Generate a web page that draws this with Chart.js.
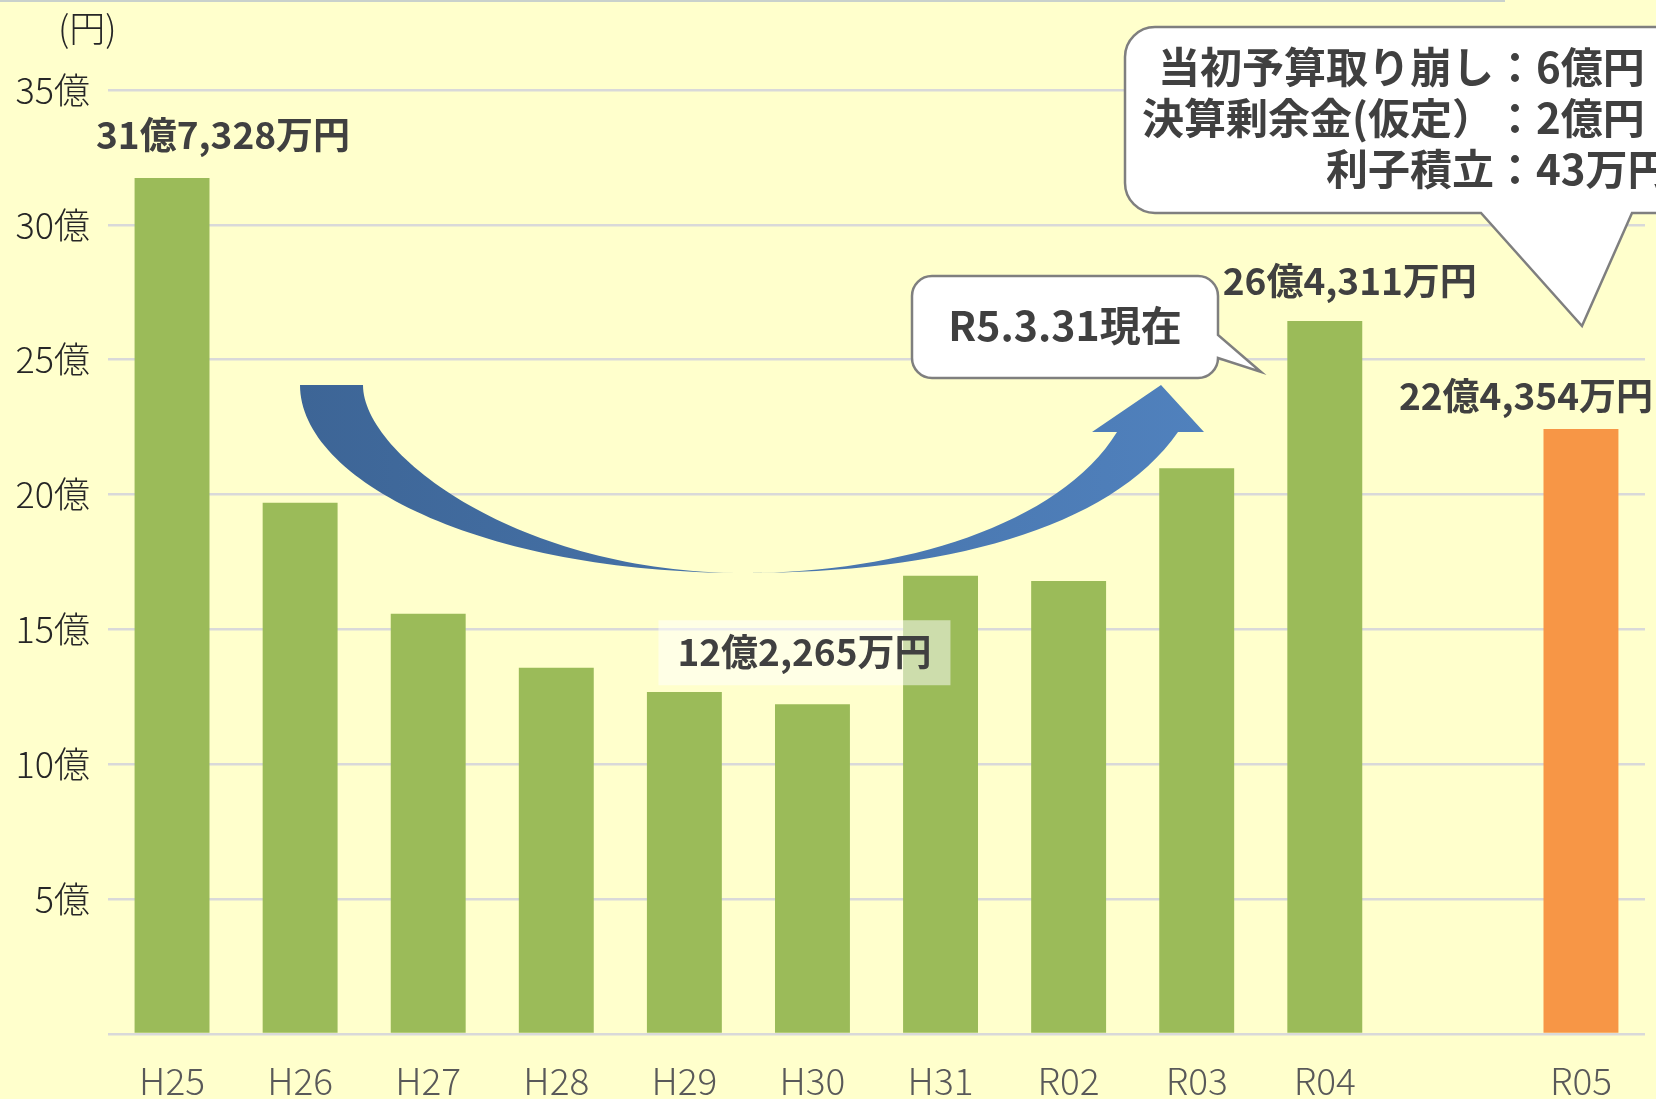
<!DOCTYPE html>
<html>
<head>
<meta charset="utf-8">
<script src="https://cdn.jsdelivr.net/npm/chart.js@4.4.0/dist/chart.umd.min.js"></script>
<style>
  html, body { margin: 0; padding: 0; background: #ffffcc; }
</style>
</head>
<body>
<canvas id="fundChart" width="1656" height="1099"></canvas>
<script>
// 年度（R04とR05の間は空欄）
const years = ["H25", "H26", "H27", "H28", "H29", "H30", "H31", "R02", "R03", "R04", "", "R05"];
// 基金残高（億円）
const balance = [31.7328, 19.70, 15.58, 13.58, 12.68, 12.2265, 16.99, 16.80, 20.98, 26.4311, null, 22.4354];
// 棒の上のラベル
const balanceLabels = ["31億7,328万円", null, null, null, null, "12億2,265万円", null, null, null, "26億4,311万円", null, "22億4,354万円"];
// 目盛り
const yTickValues = [0, 5, 10, 15, 20, 25, 30, 35];
const yTickLabels = ["", "5億", "10億", "15億", "20億", "25億", "30億", "35億"];
// 吹き出しの文
const noteLines = [
  ["当初予算取り崩し", "：6億円"],
  ["決算剰余金(仮定）", "：2億円"],
  ["利子積立", "：43万円"],
];
const dateNote = "R5.3.31現在";

const GREEN = "#9bbb59";
const ORANGE = "#f79646";
const FONT = "'Noto Sans CJK JP', 'Noto Sans', sans-serif";

const barColors = years.map((y) => (y === "R05" ? ORANGE : GREEN));

// ラベルの位置ずらし（棒の中心・上端から）
const labelShift = { 0: [51, -43], 5: [-8, -52], 9: [25, -40], 11: [-55, -33] };

// 吹き出しを描く
function bubble(ctx, pts, r) {
  ctx.beginPath();
  ctx.moveTo(pts[0][0], pts[0][1]);
  for (let i = 1; i < pts.length; i++) {
    const p = pts[i];
    if (p.length === 4) ctx.arcTo(p[0], p[1], p[2], p[3], r);
    else ctx.lineTo(p[0], p[1]);
  }
  ctx.closePath();
  ctx.fillStyle = "#ffffff";
  ctx.fill();
  ctx.lineWidth = 2.5;
  ctx.strokeStyle = "#7f7f7f";
  ctx.stroke();
}

const decorPlugin = {
  id: "decor",
  beforeDraw(chart) {
    const ctx = chart.ctx;
    ctx.save();
    ctx.fillStyle = "#ffffcc";
    ctx.fillRect(0, 0, chart.width, chart.height);
    ctx.fillStyle = "#c9d1cc";
    ctx.fillRect(0, 0, 1505, 2);
    ctx.restore();
  },
  afterDatasetsDraw(chart) {
    const ctx = chart.ctx;
    const meta = chart.getDatasetMeta(0);
    ctx.save();

    // 曲がった矢印
    const grad = ctx.createLinearGradient(300, 0, 1200, 0);
    grad.addColorStop(0, "#3d6596");
    grad.addColorStop(1, "#5081bd");
    ctx.beginPath();
    ctx.moveTo(300, 385);
    ctx.lineTo(363, 385);
    ctx.bezierCurveTo(363, 455, 520, 573, 745, 573);
    ctx.bezierCurveTo(900, 573, 1060, 525, 1117, 432);
    ctx.lineTo(1092, 432);
    ctx.lineTo(1161, 385);
    ctx.lineTo(1204, 432);
    ctx.lineTo(1178, 432);
    ctx.bezierCurveTo(1110, 530, 940, 573, 745, 573);
    ctx.bezierCurveTo(480, 573, 300, 480, 300, 385);
    ctx.closePath();
    ctx.fillStyle = grad;
    ctx.fill();

    // 棒のラベル
    ctx.font = "bold 37px " + FONT;
    ctx.textAlign = "center";
    ctx.textBaseline = "middle";
    balanceLabels.forEach((txt, i) => {
      if (!txt) return;
      const bar = meta.data[i];
      const [dx, dy] = labelShift[i] || [0, -40];
      const x = bar.x + dx;
      const y = bar.y + dy;
      if (i === 5) {
        ctx.fillStyle = "rgba(255,255,255,0.5)";
        ctx.fillRect(x - 146, y - 32, 292, 65);
      }
      ctx.fillStyle = "#404040";
      ctx.fillText(txt, x, y);
    });

    // R5.3.31現在
    bubble(ctx, [
      [932, 276], [1218, 276, 1218, 296], [1218, 335], [1261, 372], [1218, 358],
      [1218, 378, 1198, 378], [912, 378, 912, 358], [912, 276, 932, 276],
    ], 20);
    ctx.fillStyle = "#404040";
    ctx.font = "bold 41px " + FONT;
    ctx.textAlign = "center";
    ctx.fillText(dateNote, 1065, 325);

    // 内訳の吹き出し
    bubble(ctx, [
      [1155, 27], [1720, 27], [1720, 213], [1632, 213], [1582, 326], [1481, 213],
      [1125, 213, 1125, 183], [1125, 27, 1155, 27],
    ], 30);
    ctx.fillStyle = "#404040";
    ctx.font = "bold 42px " + FONT;
    noteLines.forEach(([left, right], k) => {
      const y = 67 + k * 51;
      ctx.textAlign = "right";
      ctx.fillText(left, 1494, y);
      ctx.textAlign = "left";
      ctx.fillText(right, 1494, y);
    });

    // 単位
    ctx.font = "300 36px " + FONT;
    ctx.fillStyle = "#262626";
    ctx.textAlign = "left";
    ctx.fillText("(円)", 58, 28);
    ctx.restore();
  },
};

const ctx = document.getElementById("fundChart").getContext("2d");

new Chart(ctx, {
  type: "bar",
  data: {
    labels: years,
    datasets: [
      {
        data: balance,
        backgroundColor: barColors,
        borderWidth: 0,
        categoryPercentage: 0.585,
        barPercentage: 1,
      },
    ],
  },
  options: {
    responsive: false,
    animation: false,
    devicePixelRatio: 1,
    layout: { padding: { top: 90, right: 11, bottom: 0, left: 0 } },
    plugins: { legend: { display: false }, tooltip: { enabled: false } },
    scales: {
      x: {
        grid: { display: false, drawTicks: false },
        border: { display: false },
        ticks: { color: "#595959", font: { family: FONT, size: 37, weight: "300" }, padding: 25, maxRotation: 0, autoSkip: false },
        afterFit: (s) => { s.height = 65; },
      },
      y: {
        min: 0,
        max: 35,
        afterBuildTicks: (s) => { s.ticks = yTickValues.map((v) => ({ value: v })); },
        grid: { color: "#d9d9d9", lineWidth: 2.5, drawTicks: false },
        border: { display: false },
        ticks: {
          color: "#262626",
          font: { family: FONT, size: 36, weight: "300" },
          padding: 18,
          callback: (v) => yTickLabels[yTickValues.indexOf(v)],
        },
        afterFit: (s) => { s.width = 108; },
      },
    },
  },
  plugins: [decorPlugin],
});
</script>
</body>
</html>
